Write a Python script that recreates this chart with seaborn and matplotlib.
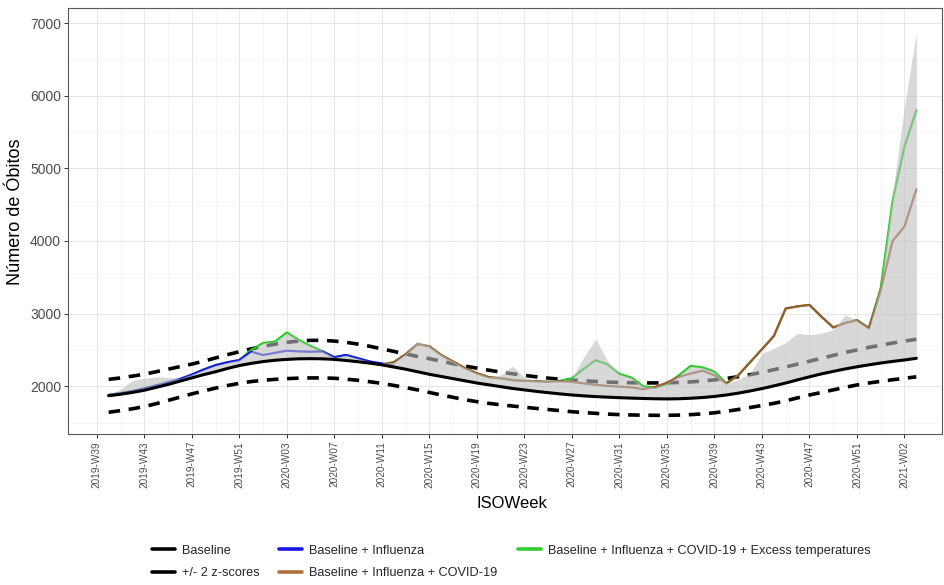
import matplotlib
matplotlib.use("Agg")
import matplotlib.pyplot as plt
from matplotlib.lines import Line2D
from matplotlib import font_manager
import seaborn as sns
import numpy as np
import pandas as pd

# ---------------- data ----------------
weeks = ([f"2019-W{w:02d}" for w in range(39, 53)]
         + [f"2020-W{w:02d}" for w in range(1, 54)]
         + [f"2021-W{w:02d}" for w in range(1, 4)])

tick_labels = ["2019-W39", "2019-W43", "2019-W47", "2019-W51", "2020-W03",
               "2020-W07", "2020-W11", "2020-W15", "2020-W19", "2020-W23",
               "2020-W27", "2020-W31", "2020-W35", "2020-W39", "2020-W43",
               "2020-W47", "2020-W51", "2021-W02"]

# weeks 2019-W40 .. 2021-W03
data_weeks = weeks[1:]

baseline = [1870, 1890, 1915, 1945, 1985, 2025, 2070, 2115, 2160, 2200,
            2245, 2285, 2315, 2340, 2358, 2370, 2378, 2380, 2378, 2370,
            2355, 2338, 2318, 2295, 2265, 2235, 2200, 2165, 2135, 2105,
            2075, 2045, 2020, 1995, 1970, 1950, 1930, 1912, 1895, 1880,
            1868, 1858, 1850, 1843, 1837, 1832, 1828, 1826, 1828, 1835,
            1845, 1860, 1880, 1905, 1935, 1968, 2005, 2045, 2088, 2130,
            2170, 2205, 2238, 2268, 2295, 2320, 2342, 2362, 2385]

upper_z = [2095, 2115, 2140, 2165, 2200, 2235, 2270, 2305, 2345, 2390,
           2435, 2475, 2515, 2550, 2580, 2605, 2622, 2632, 2632, 2622,
           2605, 2580, 2550, 2515, 2480, 2445, 2410, 2380, 2345, 2310,
           2278, 2250, 2222, 2195, 2172, 2150, 2130, 2112, 2097, 2085,
           2075, 2066, 2058, 2052, 2048, 2046, 2046, 2048, 2052, 2060,
           2072, 2088, 2108, 2132, 2160, 2192, 2228, 2265, 2305, 2345,
           2385, 2425, 2465, 2500, 2535, 2565, 2595, 2622, 2647]

lower_z = [1642, 1665, 1690, 1720, 1760, 1805, 1850, 1895, 1935, 1975,
           2010, 2040, 2065, 2082, 2095, 2105, 2112, 2115, 2115, 2110,
           2098, 2082, 2062, 2040, 2012, 1982, 1950, 1915, 1880, 1848,
           1815, 1788, 1765, 1745, 1728, 1712, 1695, 1680, 1665, 1650,
           1638, 1627, 1617, 1610, 1605, 1602, 1600, 1600, 1603, 1610,
           1620, 1635, 1655, 1680, 1708, 1735, 1765, 1800, 1840, 1880,
           1915, 1950, 1985, 2018, 2045, 2068, 2090, 2110, 2130]

# Baseline + Influenza: 2019-W40 .. 2020-W12
influenza = [1880, 1905, 1935, 1970, 2010, 2055, 2100, 2160, 2230, 2290,
             2330, 2360, 2476, 2430, 2460, 2490, 2480, 2475, 2480, 2400,
             2430, 2385, 2340, 2315, 2280]

# Baseline + Influenza + COVID-19: 2020-W11 .. 2021-W03
covid = [2300, 2330, 2440, 2580, 2550, 2430, 2340, 2250, 2180, 2125,
         2110, 2085, 2075, 2070, 2063, 2070, 2060, 2040, 2020, 2005,
         1995, 1985, 1960, 1990, 2050, 2130, 2175, 2215, 2150, 2040,
         2150, 2330, 2510, 2690, 3070, 3100, 3120, 2960, 2810, 2870,
         2910, 2800, 3320, 4000, 4200, 4710]

# Baseline + Influenza + COVID-19 + Excess temperatures: 2019-W40 .. 2021-W03
excess = [1880, 1905, 1935, 1970, 2010, 2055, 2100, 2160, 2230, 2290,
          2330, 2360, 2500, 2596, 2614, 2740, 2637, 2555, 2480, 2400,
          2430, 2385, 2340, 2300, 2330, 2440, 2580, 2550, 2430, 2340,
          2250, 2180, 2125, 2110, 2085, 2075, 2070, 2063, 2075, 2110,
          2240, 2360, 2300, 2170, 2120, 2000, 1980, 2030, 2150, 2280,
          2260, 2200, 2040, 2150, 2330, 2510, 2690, 3070, 3100, 3120,
          2960, 2810, 2870, 2910, 2800, 3350, 4550, 5300, 5800]

# observed deaths (top of grey ribbon)
observed = [1890, 1960, 2080, 2110, 2130, 2120, 2110, 2165, 2230, 2290,
            2330, 2365, 2480, 2600, 2615, 2740, 2640, 2560, 2490, 2400,
            2430, 2385, 2340, 2315, 2330, 2450, 2620, 2560, 2440, 2345,
            2255, 2185, 2130, 2150, 2280, 2120, 2080, 2100, 2075, 2110,
            2400, 2650, 2350, 2170, 2120, 2000, 1990, 2040, 2150, 2280,
            2260, 2200, 2040, 2090, 2180, 2450, 2520, 2600, 2730, 2710,
            2730, 2780, 2980, 2910, 2800, 3400, 4650, 5850, 6870]

legend_labels = ["Baseline", "+/- 2 z-scores", "Baseline + Influenza",
                 "Baseline + Influenza + COVID-19",
                 "Baseline + Influenza + COVID-19 + Excess temperatures"]

# ---------------- style ----------------
sns.set_theme(style="white")
names = {f.name for f in font_manager.fontManager.ttflist}
base_font = "Liberation Sans" if "Liberation Sans" in names else "DejaVu Sans"
plt.rcParams["font.family"] = [base_font, "DejaVu Sans"]

W, H = 945, 585
fig = plt.figure(figsize=(W / 100, H / 100), dpi=100)
ax = fig.add_axes([68 / W, 1 - 434 / H, (942 - 68) / W, (434 - 8) / H])
ax.set_facecolor("white")

widx = {w: i for i, w in enumerate(weeks)}
def xs(wlist):
    return np.array([widx[w] for w in wlist], dtype=float)

x_all = xs(data_weeks)
x_flu = xs(data_weeks[:len(influenza)])
x_cov = xs(data_weeks[len(data_weeks) - len(covid):])

c_blue, c_green, c_brown = "#1515E6", "#22CC22", "#9A5A32"

dash = (0, (3.2, 2.4))
sns.lineplot(x=x_all, y=upper_z, ax=ax, color="black", linewidth=2.6,
             linestyle=dash, zorder=2)
sns.lineplot(x=x_all, y=lower_z, ax=ax, color="black", linewidth=2.6,
             linestyle=dash, zorder=2)
sns.lineplot(x=x_all, y=excess, ax=ax, color=c_green, linewidth=1.6, zorder=2.1)
sns.lineplot(x=x_flu, y=influenza, ax=ax, color=c_blue, linewidth=1.6, zorder=2.2)
sns.lineplot(x=x_cov, y=covid, ax=ax, color=c_brown, linewidth=1.6, zorder=2.3)
ax.fill_between(x_all, baseline, observed, color="#BEBEBE", alpha=0.6,
                linewidth=0, zorder=2.5)
sns.lineplot(x=x_all, y=baseline, ax=ax, color="black", linewidth=2.2, zorder=3)

# axes
ax.set_xlim(-2.42, 71.16)
ax.set_ylim(1343, 7207)
tick_pos = [widx[t] for t in tick_labels]
ax.set_xticks(tick_pos)
ax.set_xticklabels(tick_labels, rotation=90, fontsize=7.2, color="#4D4D4D")
ax.set_xticks([p + 2 for p in tick_pos[:-1]], minor=True)
ax.set_yticks([2000, 3000, 4000, 5000, 6000, 7000])
ax.set_yticklabels(["2000", "3000", "4000", "5000", "6000", "7000"],
                   fontsize=10, color="#4D4D4D")
ax.set_yticks([1500, 2500, 3500, 4500, 5500, 6500], minor=True)
ax.tick_params(axis="both", which="major", length=3, width=0.7,
               color="#333333", pad=2, bottom=True, left=True)
ax.tick_params(axis="both", which="minor", length=0)
ax.grid(True, which="major", color="#E6E6E6", linewidth=0.7, zorder=0)
ax.grid(True, which="minor", color="#F2F2F2", linewidth=0.5, zorder=0)
ax.set_axisbelow(True)
for s in ax.spines.values():
    s.set_color("#5A5A5A")
    s.set_linewidth(0.8)

ax.set_xlabel("")
ax.set_ylabel("")
fig.text(512 / W, 1 - 503 / H, "ISOWeek", ha="center", va="center",
         fontsize=12, color="black")
fig.text(16 / W, 1 - 212 / H, "Número de Óbitos", ha="center", va="center",
         rotation=90, fontsize=13, color="black")

# legend (column-major, 2 rows x 3 columns like the reference)
leg_colors = ["black", "black", c_blue, "#B0703C", "#33CC33"]
handles = [Line2D([0], [0], color=c, linewidth=2.6) for c in leg_colors]
fig.legend(handles=handles, labels=legend_labels, ncol=3, loc="center left",
           bbox_to_anchor=(152 / W, 1 - 562 / H), frameon=False,
           handlelength=1.8, handletextpad=0.55, columnspacing=1.55,
           labelspacing=0.85, borderpad=0, borderaxespad=0, fontsize=9.2)

fig.savefig("out.png", dpi=100, facecolor="white")
